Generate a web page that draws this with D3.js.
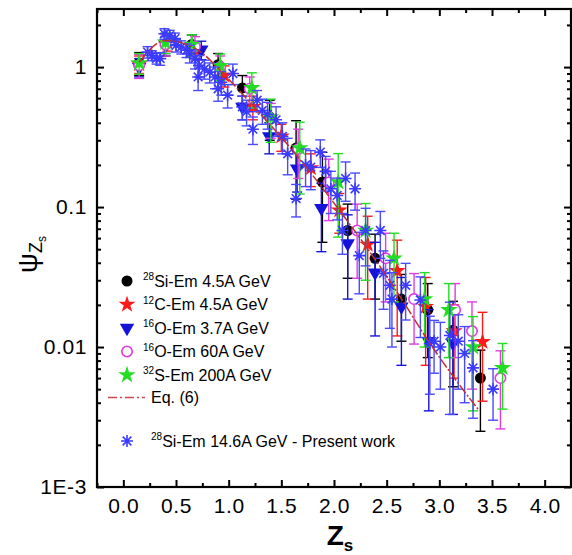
<!DOCTYPE html>
<html>
<head>
<meta charset="utf-8">
<script src="https://cdn.jsdelivr.net/npm/d3@7"></script>
<style>
  body { margin: 0; background: #fff; }
  text { font-family: Arial, "Liberation Sans", sans-serif; }
</style>
</head>
<body>
<div id="chart"></div>
<script>
// [Zs, psi, error]
const siEm45 = [
  [0.15, 1.07, 0.2], [0.40, 1.47, 0.27], [0.65, 1.45, 0.25], [0.90, 1.04, 0.21],
  [1.13, 0.71, 0.16], [1.39, 0.44, 0.14], [1.64, 0.264, 0.15], [1.89, 0.151, 0.095],
  [2.13, 0.068, 0.037], [2.39, 0.043, 0.021], [2.64, 0.022, 0.011], [2.89, 0.0184, 0.01],
  [3.13, 0.0132, 0.008], [3.39, 0.006, 0.0035]
];
const cEm45 = [
  [0.15, 1.05, 0.15], [0.42, 1.50, 0.2], [0.69, 1.32, 0.2], [0.96, 0.87, 0.15],
  [1.23, 0.52, 0.1], [1.50, 0.32, 0.07], [1.78, 0.19, 0.05], [2.05, 0.095, 0.03],
  [2.32, 0.054, 0.032], [2.60, 0.035, 0.023], [2.87, 0.0194, 0.012], [3.14, 0.013, 0.007],
  [3.41, 0.0109, 0.0068]
];
const oEm37 = [
  [0.15, 1.0, 0.15], [0.40, 1.45, 0.2], [0.74, 1.33, 0.2], [1.13, 0.52, 0.1],
  [1.385, 0.32, 0.08], [1.65, 0.188, 0.06], [1.88, 0.098, 0.05], [2.13, 0.055, 0.033],
  [2.39, 0.034, 0.022], [2.64, 0.0194, 0.012], [2.90, 0.011, 0.0075], [3.13, 0.0106, 0.0073]
];
const oEm60 = [
  [0.15, 1.03, 0.2], [0.40, 1.45, 0.25], [0.68, 1.40, 0.25], [0.92, 1.0, 0.2],
  [1.20, 0.70, 0.15], [1.40, 0.43, 0.12], [1.66, 0.26, 0.1], [1.95, 0.15, 0.07],
  [2.22, 0.068, 0.037], [2.49, 0.043, 0.022], [2.76, 0.022, 0.0115], [3.15, 0.0184, 0.01],
  [3.31, 0.013, 0.008], [3.58, 0.006, 0.0034]
];
const sEm200 = [
  [0.15, 1.07, 0.18], [0.40, 1.50, 0.25], [0.65, 1.45, 0.25], [0.92, 1.02, 0.22],
  [1.22, 0.71, 0.2], [1.40, 0.44, 0.15], [1.675, 0.264, 0.14], [2.04, 0.151, 0.09],
  [2.30, 0.068, 0.038], [2.57, 0.043, 0.022], [2.86, 0.022, 0.012], [3.09, 0.0184, 0.01],
  [3.32, 0.010, 0.0065], [3.60, 0.0071, 0.0035]
];
const siEm146 = [
  [0.23, 1.28, 0.12], [0.27, 1.21, 0.1], [0.315, 1.15, 0.1], [0.35, 1.15, 0.12],
  [0.39, 1.73, 0.15], [0.44, 1.68, 0.15], [0.49, 1.60, 0.15], [0.50, 1.43, 0.15],
  [0.55, 1.39, 0.15], [0.60, 1.32, 0.15], [0.63, 1.25, 0.18], [0.68, 1.15, 0.18],
  [0.71, 0.85, 0.17], [0.72, 1.03, 0.18], [0.77, 0.97, 0.15], [0.82, 0.92, 0.15],
  [0.87, 0.85, 0.15], [0.90, 0.70, 0.13], [0.93, 0.78, 0.15], [0.99, 0.63, 0.12],
  [1.04, 0.90, 0.15], [1.13, 0.52, 0.1], [1.17, 0.48, 0.1], [1.23, 0.36, 0.08],
  [1.27, 0.58, 0.1], [1.32, 0.49, 0.1], [1.37, 0.46, 0.1], [1.45, 0.42, 0.1],
  [1.51, 0.32, 0.08], [1.56, 0.24, 0.07], [1.64, 0.115, 0.03], [1.73, 0.20, 0.06],
  [1.78, 0.193, 0.06], [1.87, 0.247, 0.055], [1.92, 0.18, 0.05], [1.97, 0.135, 0.045],
  [2.03, 0.121, 0.04], [2.08, 0.068, 0.022], [2.11, 0.16, 0.05], [2.20, 0.135, 0.04],
  [2.24, 0.045, 0.021], [2.30, 0.068, 0.03], [2.44, 0.068, 0.025], [2.47, 0.0336, 0.015],
  [2.53, 0.0276, 0.014], [2.55, 0.022, 0.012], [2.68, 0.0276, 0.012], [2.82, 0.0217, 0.01],
  [2.91, 0.0106, 0.006], [2.95, 0.011, 0.0045], [3.01, 0.0100, 0.005], [3.10, 0.0121, 0.0088],
  [3.18, 0.011, 0.006], [3.24, 0.009, 0.005], [3.32, 0.0071, 0.004], [3.51, 0.005, 0.002]
];
// Eq. (6) curve
const eqLine = [
  [0.15, 1.08], [0.40, 1.55], [0.69, 1.35], [0.96, 0.88], [1.23, 0.53], [1.50, 0.315],
  [1.78, 0.175], [2.05, 0.095], [2.33, 0.049], [2.61, 0.024], [2.90, 0.0109],
  [3.18, 0.0055], [3.38, 0.0035]
];

const xTicks = [0, 0.5, 1, 1.5, 2, 2.5, 3, 3.5, 4];
const xMinor = [-0.25, 0.25, 0.75, 1.25, 1.75, 2.25, 2.75, 3.25, 3.75, 4.25];
const yTicks = [0.001, 0.01, 0.1, 1];
const yTickLabels = ['1E-3', '0.01', '0.1', '1'];

const W = 572, H = 555;
const svg = d3.select('#chart').append('svg')
  .attr('width', W).attr('height', H)
  .style('background', '#fff');

const x = d3.scaleLinear().domain([-0.25, 4.25]).range([97, 571]);
const y = d3.scaleLog().domain([0.001, 2.6]).range([487, 9]);

// minor log ticks
const yMinor = [];
[0.001, 0.01, 0.1, 1].forEach(d => {
  for (let k = 2; k <= 9; k++) if (d * k <= 2.6) yMinor.push(d * k);
});

svg.append('defs').append('clipPath').attr('id', 'clip')
  .append('rect').attr('x', 97).attr('y', 9).attr('width', 474).attr('height', 478);

// axes
function styleAxis(g) {
  g.select('.domain').remove();
  g.selectAll('.tick line').attr('stroke', '#000').attr('stroke-width', 2);
}
function styleLabels(g) {
  g.selectAll('text').attr('font-size', 21).attr('letter-spacing', 0.6).attr('fill', '#000');
}
svg.append('g').attr('transform', 'translate(0,487)')
  .call(d3.axisBottom(x).tickValues(xTicks).tickSize(-7).tickPadding(11).tickFormat(d3.format('.1f')))
  .call(styleAxis).call(styleLabels);
svg.append('g').attr('transform', 'translate(0,487)')
  .call(d3.axisBottom(x).tickValues(xMinor).tickSize(-4).tickFormat(''))
  .call(styleAxis);
svg.append('g').attr('transform', 'translate(0,9)')
  .call(d3.axisTop(x).tickValues(xTicks).tickSize(-7).tickFormat(''))
  .call(styleAxis);
svg.append('g').attr('transform', 'translate(0,9)')
  .call(d3.axisTop(x).tickValues(xMinor).tickSize(-4).tickFormat(''))
  .call(styleAxis);

svg.append('g').attr('transform', 'translate(97,0)')
  .call(d3.axisLeft(y).tickValues(yTicks).tickSize(-7).tickPadding(10)
    .tickFormat((d, i) => yTickLabels[i]))
  .call(styleAxis).call(styleLabels);
svg.append('g').attr('transform', 'translate(97,0)')
  .call(d3.axisLeft(y).tickValues(yMinor).tickSize(-4).tickFormat(''))
  .call(styleAxis);
svg.append('g').attr('transform', 'translate(571,0)')
  .call(d3.axisRight(y).tickValues(yTicks).tickSize(-7).tickFormat(''))
  .call(styleAxis);
svg.append('g').attr('transform', 'translate(571,0)')
  .call(d3.axisRight(y).tickValues(yMinor).tickSize(-4).tickFormat(''))
  .call(styleAxis);

// frame
svg.append('rect').attr('x', 97).attr('y', 9).attr('width', 474).attr('height', 478)
  .attr('fill', 'none').attr('stroke', '#000').attr('stroke-width', 2.2);

// marker shapes
const asteriskPath = r => {
  const a = r * 0.72;
  return `M0,${-r}V${r}M${-r},0H${r}M${-a},${-a}L${a},${a}M${-a},${a}L${a},${-a}`;
};
const series = [
  { data: siEm45, color: '#000000', draw: (g) => g.append('path').attr('d', d3.symbol(d3.symbolCircle, 95)()).attr('fill', '#000') },
  { data: cEm45, color: '#ff1a1a', draw: (g) => g.append('path').attr('d', d3.symbol(d3.symbolStar, 90)()).attr('fill', '#ff1a1a') },
  { data: oEm37, color: '#1414d8', draw: (g) => g.append('path').attr('d', d3.symbol(d3.symbolTriangle, 90)()).attr('transform', 'rotate(180)').attr('fill', '#1414d8') },
  { data: oEm60, color: '#e23be2', draw: (g) => g.append('circle').attr('r', 5.2).attr('fill', '#fff').attr('stroke', '#e23be2').attr('stroke-width', 1.6) },
  { data: sEm200, color: '#22dd22', draw: (g) => g.append('path').attr('d', d3.symbol(d3.symbolStar, 95)()).attr('fill', '#22dd22') },
  { data: siEm146, color: '#4a4aff', draw: (g) => g.append('path').attr('d', asteriskPath(6)).attr('fill', 'none').attr('stroke', '#3a3aff').attr('stroke-width', 1.6) }
];

const plot = svg.append('g').attr('clip-path', 'url(#clip)');

series.forEach(s => {
  const g = plot.append('g');
  // error bars
  const eb = g.selectAll('g.eb').data(s.data).join('g').attr('class', 'eb')
    .attr('stroke', s.color).attr('stroke-width', 1.4).attr('fill', 'none');
  eb.append('line')
    .attr('x1', d => x(d[0])).attr('x2', d => x(d[0]))
    .attr('y1', d => y(d[1] + d[2]))
    .attr('y2', d => y(Math.max(d[1] - d[2], 0.0008)));
  eb.append('line')
    .attr('x1', d => x(d[0]) - 5).attr('x2', d => x(d[0]) + 5)
    .attr('y1', d => y(d[1] + d[2])).attr('y2', d => y(d[1] + d[2]));
  eb.filter(d => d[1] - d[2] > 0).append('line')
    .attr('x1', d => x(d[0]) - 5).attr('x2', d => x(d[0]) + 5)
    .attr('y1', d => y(d[1] - d[2])).attr('y2', d => y(d[1] - d[2]));
  // markers
  g.selectAll('g.pt').data(s.data).join('g').attr('class', 'pt')
    .attr('transform', d => `translate(${x(d[0])},${y(d[1])})`)
    .each(function () { s.draw(d3.select(this)); });
});

// Eq. (6)
plot.append('path').datum(eqLine)
  .attr('d', d3.line().x(d => x(d[0])).y(d => y(d[1])).curve(d3.curveMonotoneX))
  .attr('fill', 'none').attr('stroke', '#c03030').attr('stroke-width', 1.5)
  .attr('stroke-dasharray', '10,2,2,2');

// legend
const legendRows = [
  { sup: '28', text: 'Si-Em 4.5A GeV', s: 0, tx: 143 },
  { sup: '12', text: 'C-Em 4.5A GeV', s: 1, tx: 143 },
  { sup: '16', text: 'O-Em 3.7A GeV', s: 2, tx: 143 },
  { sup: '16', text: 'O-Em 60A GeV', s: 3, tx: 143 },
  { sup: '32', text: 'S-Em 200A GeV', s: 4, tx: 143 },
  { sup: '', text: 'Eq. (6)', s: -1, tx: 151 },
  { sup: '28', text: 'Si-Em 14.6A GeV - Present work', s: 5, tx: 151 }
];
const legendY = [281, 304.5, 328, 351.5, 375, 397.5, 441];
const leg = svg.append('g');
legendRows.forEach((r, i) => {
  const ly = legendY[i];
  const g = leg.append('g').attr('transform', `translate(127,${ly})`);
  if (r.s >= 0) series[r.s].draw(g);
  else g.append('line').attr('x1', -19).attr('x2', 18).attr('stroke', '#d04848')
    .attr('stroke-width', 1.4).attr('stroke-dasharray', '9,3,2,3');
  const t = leg.append('text').attr('x', r.tx).attr('y', ly + 5.5)
    .attr('font-size', 16).attr('fill', '#000');
  if (r.sup) t.append('tspan').attr('font-size', 10).attr('dy', -6.5).text(r.sup);
  t.append('tspan').attr('dy', r.sup ? 6.5 : 0).text(r.text);
});

// axis titles
const xt = svg.append('text').attr('x', 340).attr('y', 545).attr('text-anchor', 'middle')
  .attr('font-weight', 'bold').attr('font-size', 28);
xt.append('tspan').text('Z');
xt.append('tspan').attr('font-size', 17).attr('dy', 6).text('s');

const yt = svg.append('text').attr('transform', 'translate(37,273) rotate(-90)')
  .attr('font-size', 28);
yt.append('tspan').text('ψ');
yt.append('tspan').attr('font-size', 18).attr('dy', 5).text('Z');
yt.append('tspan').attr('font-size', 12).attr('dy', 4).text('s');
</script>
</body>
</html>
